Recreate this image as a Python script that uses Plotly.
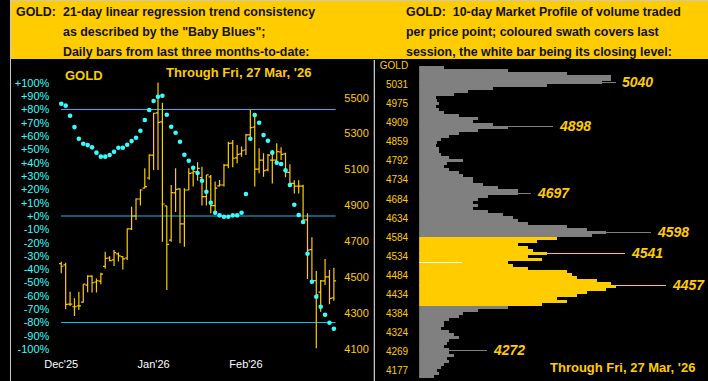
import plotly.graph_objects as go

W, H = 708, 381
GOLD = "#FFCC00"
CYAN = "#33FFFF"
LINE_BLUE = "#1EB8F0"
GREY = "#808080"
FONT = "Liberation Sans, Arial, sans-serif"

# ---------------- left chart data ----------------
bar_index = list(range(63))
opens = [4575, 4567, 4349, 4334, 4339, 4360, 4455, 4505, 4472, 4477,
         4559, 4606, 4595, 4629, 4614, 4606, 4768, 4840, 4935, 4996,
         5052, 5179, 5415, 5365, 4896, 4706, 4969, 4991, 4796, 4985,
         5080, 5085, 5054, 4948, 5058, 4898, 5008, 5013, 5124, 5247,
         5164, 5186, 5208, 5292, 5336, 5102, 5152, 5097, 5152, 5152,
         5197, 5186, 5083, 5022, 5007, 5007, 4818, 4653, 4480, 4416,
         4478, 4501, 4383]
highs = [4585, 4580, 4418, 4381, 4418, 4460, 4509, 4509, 4492, 4523,
         4641, 4616, 4651, 4636, 4616, 4772, 4892, 4939, 4989, 5106,
         5185, 5416, 5584, 5472, 4896, 5013, 5106, 4995, 4995, 5106,
         5112, 5140, 5115, 5069, 5069, 5032, 5041, 5130, 5254, 5264,
         5236, 5227, 5297, 5431, 5403, 5218, 5190, 5186, 5208, 5246,
         5224, 5193, 5128, 5040, 5040, 5014, 4855, 4721, 4533, 4483,
         4600, 4539, 4552]
lows = [4521, 4320, 4338, 4283, 4316, 4356, 4415, 4413, 4413, 4460,
        4548, 4588, 4561, 4586, 4542, 4595, 4762, 4818, 4898, 4995,
        5042, 5096, 5096, 4697, 4427, 4697, 4862, 4688, 4669, 4985,
        5004, 5037, 4898, 4898, 4855, 4846, 5004, 5004, 5106, 5112,
        5134, 5171, 5180, 5273, 5004, 5078, 5059, 5090, 5022, 5134,
        5153, 5056, 5007, 4965, 4965, 4806, 4489, 4470, 4102, 4306,
        4455, 4348, 4368]
closes = [4560, 4347, 4349, 4334, 4339, 4460, 4505, 4468, 4479, 4516,
          4604, 4591, 4636, 4618, 4601, 4768, 4840, 4935, 4985, 5004,
          5179, 5413, 5362, 4907, 4682, 4970, 4989, 4796, 4985, 5078,
          5087, 5106, 4948, 5069, 4898, 4995, 5013, 5124, 5245, 5162,
          5184, 5204, 5292, 5333, 5102, 5152, 5093, 5180, 5152, 5199,
          5184, 5083, 5022, 5007, 5007, 4818, 4650, 4478, 4400, 4478,
          4501, 4381, 4478]
baby_blues = [84.3, 82.9, 75.3, 66.8, 58.1, 54.3, 53.3, 51.6, 47.6, 44.6,
              44.6, 45.8, 48.3, 51.3, 51.3, 53.6, 56.3, 58.8, 64.1, 72.1,
              79.6, 86.4, 89.6, 90.4, 76.1, 67.1, 62.6, 55.8, 46.0, 41.5,
              36.3, 32.3, 26.5, 18.3, 10.0, 2.5, 0.5, -0.5, -0.5, 0.5,
              0.5, 2.5, 16.5, 58.1, 75.8, 70.1, 60.8, 56.6, 47.6, 40.0,
              39.1, 34.3, 23.3, 8.5, 0.75, -4.5, -28.3, -49.3, -60.6, -68.1,
              -74.1, -80.1, -84.6]
month_ticks = [0, 21, 42]
month_labels = ["Dec'25", "Jan'26", "Feb'26"]
pct_ticks = list(range(-100, 101, 10))
pct_labels = [("+%d%%" % v) if v >= 0 else ("%d%%" % v) for v in pct_ticks]
price_ticks = list(range(4100, 5501, 200))
ref_levels = [80, 0, -80]

# ---------------- right chart data (market profile) ----------------
profile_top = [25, 90, 150, 195, 195, 185, 130, 75, 50, 35,
               17, 18, 20, 17, 20, 25, 40, 60, 55, 75,
               90, 60, 40, 30, 22, 18, 17, 20, 20, 22,
               30, 45, 28, 25, 30, 40, 45, 55, 55, 65,
               80, 100, 100, 70, 60, 55, 60, 55, 70, 85,
               95, 100, 110, 150, 170, 190, 175]
profile_swath = [140, 120, 100, 110, 115, 130, 110, 125, 90, 95,
                 110, 150, 155, 160, 180, 195, 200, 190, 170, 160,
                 140, 150, 125]
profile_bottom = [90, 60, 45, 40, 30, 25, 25, 22, 30, 35,
                  40, 30, 28, 25, 30, 30, 35, 28, 30, 25,
                  22, 18, 20, 15]
peak_labels = ["5040", "4898", "4697", "4598", "4541", "4457", "4272"]
peak_rows = [16, 60, 127, 166, 187, 219, 284]
peak_volumes = [200, 136, 113, 235, 209, 250, 69]
close_row = 196
close_volume = 43
profile_tick_rows = [-1, 18, 37, 56, 75, 94, 113, 133, 152, 171, 190, 209, 228, 247, 266, 285, 304]
profile_tick_labels = ["GOLD", "5031", "4975", "4909", "4859", "4792", "4734", "4684", "4634",
                       "4584", "4534", "4484", "4434", "4384", "4324", "4269", "4177"]
ROW_H = 3

# ---------------- build ----------------
fig = go.Figure()

fig.add_trace(go.Ohlc(
    x=bar_index, open=opens, high=highs, low=lows, close=closes,
    increasing=dict(line=dict(color=GOLD, width=1.2)),
    decreasing=dict(line=dict(color=GOLD, width=1.2)),
    tickwidth=0.5, xaxis="x", yaxis="y", hoverinfo="skip", showlegend=False))

fig.add_trace(go.Scatter(
    x=bar_index, y=baby_blues, mode="markers",
    marker=dict(size=4.6, color=CYAN, line=dict(width=0)),
    xaxis="x", yaxis="y2", hoverinfo="skip", showlegend=False))

vols = profile_top + profile_swath + profile_bottom
n_top, n_sw = len(profile_top), len(profile_swath)
cols = [GREY] * n_top + [GOLD] * n_sw + [GREY] * len(profile_bottom)
rows = [ROW_H * k + ROW_H / 2 for k in range(len(vols))]
fig.add_trace(go.Bar(
    orientation="h", y=rows, x=vols, width=ROW_H,
    marker=dict(color=cols, line=dict(width=0)),
    xaxis="x3", yaxis="y3", hoverinfo="skip", showlegend=False))

sw_lo, sw_hi = n_top * ROW_H, (n_top + n_sw) * ROW_H
peak_cols = [GOLD if sw_lo <= r < sw_hi else GREY for r in peak_rows]
fig.add_trace(go.Bar(
    orientation="h", y=peak_rows, x=peak_volumes, width=1,
    marker=dict(color=peak_cols, line=dict(width=0)),
    xaxis="x3", yaxis="y3", hoverinfo="skip", showlegend=False))
fig.add_trace(go.Bar(
    orientation="h", y=[close_row], x=[close_volume], width=1,
    marker=dict(color="white", line=dict(width=0)),
    xaxis="x3", yaxis="y3", hoverinfo="skip", showlegend=False))


def px(p):
    return p / W


def py(p):
    return 1 - p / H


top_dom = py(60)
fig.update_layout(
    width=W, height=H, margin=dict(l=0, r=0, t=0, b=0),
    paper_bgcolor="black", plot_bgcolor="rgba(0,0,0,0)",
    barmode="overlay", bargap=0,
    xaxis=dict(domain=[px(45), px(334)], range=[-1.57, 63.23], anchor="free",
               position=py(356), tickvals=month_ticks, ticktext=month_labels,
               tickfont=dict(color="white", size=11, family=FONT), ticks="",
               showgrid=False, zeroline=False, showline=False, rangeslider=dict(visible=False),
               fixedrange=True),
    yaxis=dict(domain=[0, top_dom], range=[3920, 5710], side="right", anchor="x",
               tickvals=price_ticks, ticktext=[str(v) for v in price_ticks],
               tickfont=dict(color=GOLD, size=11, family=FONT), ticks="",
               ticklabelstandoff=4, showgrid=False, zeroline=False, showline=False),
    yaxis2=dict(domain=[0, top_dom], range=[-123.9, 117.2], side="left", anchor="x",
                overlaying="y", tickvals=pct_ticks, ticktext=pct_labels,
                tickfont=dict(color=CYAN, size=11, family=FONT), ticks="",
                ticklabelstandoff=4, showgrid=False, zeroline=False, showline=False),
    xaxis3=dict(domain=[px(415), 1], range=[0, 293], anchor="y3",
                showticklabels=False, showgrid=False, zeroline=False, showline=False),
    yaxis3=dict(domain=[0, top_dom], range=[315, -6], anchor="x3",
                tickvals=profile_tick_rows, ticktext=profile_tick_labels,
                tickfont=dict(color=GOLD, size=10, family=FONT), ticks="",
                ticklabelstandoff=10, showgrid=False, zeroline=False, showline=False),
)

shapes = [
    dict(type="rect", xref="paper", yref="paper", x0=0, x1=1, y0=py(59), y1=1,
         fillcolor=GOLD, line=dict(width=0), layer="below"),
    dict(type="line", xref="paper", yref="paper", x0=0, x1=1, y0=py(0.5), y1=py(0.5),
         line=dict(color="#C8C8C8", width=1)),
    dict(type="line", xref="paper", yref="paper", x0=px(0.5), x1=px(0.5), y0=0, y1=1,
         line=dict(color="#C8C8C8", width=1)),
    dict(type="line", xref="paper", yref="paper", x0=px(369.5), x1=px(369.5), y0=0, y1=py(60),
         line=dict(color="white", width=1)),
]
for lv in ref_levels:
    shapes.append(dict(type="line", xref="x", yref="y2", x0=-0.05, x1=62.4, y0=lv, y1=lv,
                       line=dict(color=LINE_BLUE, width=1.1), layer="below"))
fig.update_layout(shapes=shapes)

ann = []


def text(x, y, s, size=12.4, color="#111111", bold=True, italic=False, xanchor="left"):
    st = s
    if bold:
        st = "<b>" + st + "</b>"
    if italic:
        st = "<i>" + st + "</i>"
    ann.append(dict(xref="paper", yref="paper", x=px(x), y=py(y), text=st, showarrow=False,
                    xanchor=xanchor, yanchor="middle",
                    font=dict(family=FONT, size=size, color=color)))


text(4, 11.7, "GOLD:")
text(52, 11.7, "21-day linear regression trend consistency")
text(52, 31.7, "as described by the \"Baby Blues\";")
text(52, 51.7, "Daily bars from last three months-to-date:")
text(400, 11.7, "GOLD:&nbsp;&nbsp;10-day Market Profile of volume traded")
text(400, 31.7, "per price point; coloured swath covers last")
text(400, 51.7, "session, the white bar being its closing level:")
text(54, 76, "GOLD", size=13, color=GOLD)
text(156, 73, "Through Fri, 27 Mar, '26", size=13, color=GOLD)
text(546, 367, "Through Fri, 27 Mar, '26", size=13, color=GOLD)

for lab, r, v in zip(peak_labels, peak_rows, peak_volumes):
    ann.append(dict(xref="x3", yref="y3", x=v, y=r, text="<b><i>" + lab + "</i></b>",
                    showarrow=False, xanchor="left", yanchor="middle", xshift=4,
                    font=dict(family=FONT, size=14, color=GOLD)))
fig.update_layout(annotations=ann)

fig.write_html("out.html", config={"displayModeBar": False, "staticPlot": True},
               post_script="document.body.style.margin='0';document.body.style.padding='0';"
                           "document.body.style.overflow='hidden';")
